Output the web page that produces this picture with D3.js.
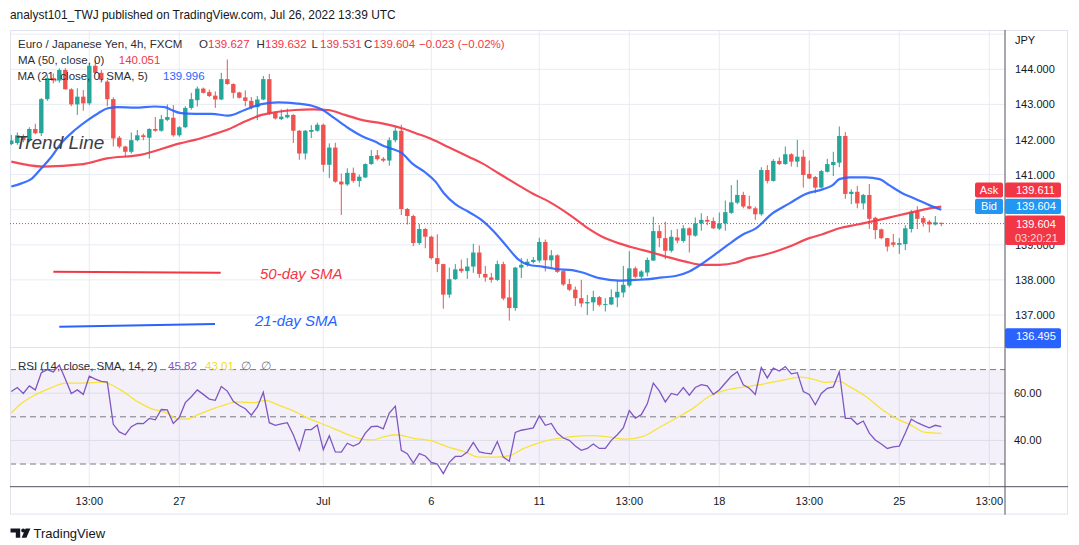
<!DOCTYPE html>
<html><head><meta charset="utf-8">
<script src="https://cdn.jsdelivr.net/npm/d3@7"></script>
<style>
html,body{margin:0;padding:0;background:#fff;}
svg{display:block;font-family:"Liberation Sans",Arial,sans-serif;}
</style></head><body>
<svg id="c" width="1079" height="545"></svg>
<script>
// ---------------- DATA ----------------
const opens = [141.87,141.90,142.10,141.97,142.30,142.18,143.15,143.75,143.68,143.98,143.43,143.00,143.22,143.03,144.10,143.90,143.65,143.15,142.05,141.80,
141.65,141.98,142.12,142.05,142.30,142.25,142.56,142.62,142.12,142.35,142.90,143.12,143.45,143.35,143.25,143.14,143.72,143.58,143.34,143.20,
143.10,142.92,143.14,143.72,142.75,142.58,142.63,142.70,142.25,141.60,142.22,142.25,142.42,141.28,141.77,140.80,140.72,141.05,140.82,140.92,
141.30,141.55,141.45,141.40,141.98,142.25,140.02,139.82,139.05,139.45,139.23,138.62,138.45,137.58,138.02,138.32,138.25,138.38,138.78,138.17,
138.07,138.00,138.45,137.50,137.20,138.35,138.43,138.51,138.55,139.08,138.56,138.70,138.25,137.88,137.72,137.48,137.33,137.36,137.51,137.29,
137.30,137.50,137.64,137.84,138.33,138.09,138.21,138.55,139.39,139.19,138.83,139.21,139.11,139.47,139.26,139.61,139.71,139.68,139.46,139.61,
139.91,140.20,140.42,140.10,140.04,139.87,141.13,140.82,141.39,141.30,141.58,141.37,141.51,141.02,140.93,140.63,141.08,141.27,141.34,142.10,
140.45,140.51,140.18,140.42,139.77,139.44,139.19,139.07,139.00,139.02,139.45,139.94,139.76,139.66,139.58,139.627];
const highs = [142.13,142.20,142.15,142.35,142.45,143.18,143.85,143.88,144.03,144.03,143.46,143.46,143.41,144.15,144.25,143.98,143.70,143.20,142.10,141.82,
142.20,142.27,142.17,142.32,142.64,142.70,143.00,142.98,142.38,142.95,143.33,143.51,143.48,143.42,143.37,143.90,144.28,143.60,143.36,143.40,
143.21,143.24,143.81,143.87,142.79,142.86,142.88,142.72,142.27,142.27,142.41,142.48,142.45,141.89,141.91,141.03,141.18,141.20,141.00,141.32,
141.70,141.70,141.50,142.06,142.35,142.42,140.05,139.86,139.60,139.48,139.26,139.30,138.46,138.35,138.45,138.58,138.62,139.03,138.98,138.40,
138.20,138.55,138.52,138.00,138.37,138.62,138.60,138.65,139.20,139.15,138.85,138.73,138.28,138.03,137.81,138.00,137.57,137.69,137.54,137.48,
137.73,137.97,138.40,138.82,138.38,138.28,138.64,139.80,139.56,139.66,139.42,139.45,139.56,139.50,139.78,139.90,139.82,139.78,139.92,140.26,
140.70,140.85,140.51,140.40,140.09,141.21,141.27,141.44,141.49,141.80,141.61,141.99,141.70,141.40,140.96,141.13,141.45,141.65,142.37,142.21,
140.58,140.68,140.45,140.73,139.80,139.46,139.20,139.31,139.19,139.56,139.99,140.10,139.82,139.71,139.82,139.632];
const lows = [141.84,141.85,141.92,141.92,142.15,142.10,143.10,143.60,143.62,143.42,142.95,142.70,142.82,142.98,143.86,143.62,142.95,141.80,141.75,141.50,
141.60,141.95,141.98,141.45,142.22,142.22,142.52,142.08,142.08,142.32,142.85,142.94,143.31,143.21,142.90,143.12,143.56,143.17,143.17,142.95,
142.86,142.55,143.12,142.70,142.57,142.55,142.60,141.90,141.42,141.43,142.04,142.22,141.08,140.90,140.77,139.85,140.68,140.77,140.65,140.90,
141.28,141.40,141.36,141.25,141.92,139.85,139.58,138.96,139.00,138.90,138.58,138.22,137.18,137.49,138.00,138.20,138.03,138.20,138.06,137.95,
137.92,137.97,137.42,136.84,137.12,138.05,138.38,138.47,138.49,138.24,138.37,138.20,137.83,137.68,137.26,137.22,137.00,137.12,137.24,137.10,
137.28,137.22,137.50,137.79,138.05,138.00,138.10,138.55,138.93,138.59,138.78,139.04,139.06,138.78,139.23,139.40,139.56,139.45,139.42,139.40,
139.88,140.16,140.04,140.01,139.71,139.83,140.75,140.80,141.27,141.28,141.23,141.21,140.63,140.87,140.47,140.61,141.06,140.96,141.21,140.31,
140.16,140.04,140.01,139.45,139.16,139.16,138.81,138.93,138.74,138.85,139.35,139.45,139.52,139.35,139.55,139.531];
const closes = [141.97,142.12,141.98,142.30,142.18,143.15,143.75,143.68,143.98,143.43,143.00,143.22,143.03,144.10,143.90,143.70,143.15,142.03,141.80,141.65,
141.98,142.12,142.07,142.30,142.25,142.58,142.64,142.12,142.35,142.90,143.15,143.45,143.33,143.24,143.14,143.72,143.58,143.33,143.19,143.10,
142.92,143.14,143.72,142.75,142.60,142.65,142.70,142.25,141.60,142.25,142.27,142.42,141.28,141.77,140.80,140.72,141.05,140.82,140.94,141.30,
141.53,141.44,141.40,141.98,142.25,140.02,139.82,139.05,139.45,139.23,138.62,138.45,137.58,138.02,138.30,138.25,138.38,138.78,138.17,138.07,
138.00,138.45,137.47,137.20,138.35,138.43,138.52,138.57,139.08,138.56,138.70,138.23,137.87,137.72,137.48,137.33,137.37,137.51,137.29,137.31,
137.51,137.66,137.86,138.33,138.09,138.24,138.57,139.39,139.19,138.83,139.23,139.12,139.47,139.27,139.61,139.71,139.66,139.47,139.61,139.93,
140.21,140.42,140.09,140.03,139.87,141.13,140.82,141.39,141.30,141.58,141.37,141.51,140.99,140.89,140.63,141.10,141.30,141.36,142.10,140.45,
140.51,140.18,140.42,139.74,139.42,139.19,138.95,139.00,139.05,139.47,139.94,139.74,139.63,139.58,139.64,139.604];

// moving averages: [bar index, value]
const ma50 = [[0,141.37],[5.3,141.23],[12,141.30],[15.9,141.46],[21.5,141.56],[28.1,141.89],[30.6,141.99],[33.4,142.13],[36.2,142.29],[38.9,142.51],
[41.7,142.70],[44.5,142.79],[47.3,142.84],[50.1,142.86],[52.8,142.84],[55.6,142.70],[58.4,142.56],[61.8,142.46],[65.1,142.32],[67.4,142.18],
[70.1,142.01],[72.9,141.78],[76.2,141.51],[78.5,141.32],[81.2,141.04],[84,140.75],[86.8,140.47],[89.6,140.23],[93,139.86],[95.7,139.52],
[98.5,139.23],[101.3,139.04],[104.1,138.90],[106.8,138.78],[109.6,138.64],[112.4,138.52],[115.2,138.43],[118,138.43],[120.7,138.49],[122.9,138.62],
[124.6,138.68],[127.4,138.81],[129.7,138.95],[133,139.19],[135.2,139.30],[138,139.47],[140.8,139.57],[144.1,139.69],[147.4,139.82],[150.2,139.93],
[153,140.04],[155,140.09]];
const ma21 = [[0,140.66],[1.7,140.75],[3.3,140.87],[5,141.18],[6.7,141.51],[8.3,141.89],[10.6,142.27],[12.8,142.56],[14.5,142.75],[16.1,142.89],
[17.8,142.92],[20.6,142.91],[23.9,142.94],[25.6,142.92],[26.7,142.84],[28.3,142.75],[30.6,142.73],[33.4,142.73],[36.2,142.68],[38.9,142.84],
[41.7,143.01],[44.5,143.06],[47.3,143.03],[50.1,142.96],[51.7,142.86],[53.9,142.60],[56.2,142.32],[58.4,142.10],[60.6,141.94],[62.3,141.80],
[63.5,141.73],[65.1,141.61],[66.8,141.32],[69,141.06],[70.7,140.80],[72.1,140.47],[74,140.16],[76.2,139.94],[78.5,139.69],[80.7,139.33],
[82.6,138.95],[84.6,138.57],[86.2,138.43],[88.5,138.38],[90.7,138.31],[93.5,138.28],[95.2,138.21],[98,138.05],[101.3,137.98],[104.1,138.00],
[106.3,138.02],[108.5,138.07],[110.7,138.11],[113,138.24],[115.2,138.47],[117.4,138.74],[119.6,139.02],[121.8,139.28],[124.1,139.47],[126.9,139.90],
[129.7,140.18],[132.4,140.45],[135.2,140.58],[136.9,140.70],[138,140.87],[139.7,140.92],[142.4,140.92],[144.7,140.87],[146.3,140.70],[148.5,140.47],
[150.8,140.30],[153,140.13],[155,140.00]];

const rsi = [60.7,62.4,59.9,63.1,61.4,68.7,70,69,72,66,59.9,61.4,59.5,67.2,66,65,64.7,46.8,43.6,42.4,
45.8,47.2,47.1,49.3,48.7,53.1,52.9,47.2,49.7,56,58.5,61.4,59.5,57.5,57,62.8,60.9,56.6,54.8,53.4,
50.7,54.1,60.4,47.5,46.4,47,47.5,42.4,35.8,44.6,44.6,46.5,36.1,42,35.1,35,38.8,37.6,38.8,43.1,
45.8,46,44.9,51.6,54.5,35.8,34.4,30.4,34.4,33.4,30.7,30,25.9,30.7,33.2,33.2,35.1,39.1,35.1,34.6,
34.3,39.5,32.9,31.2,43.4,44.3,44.8,45.3,50.4,46.4,47.2,43.1,41,40,37.6,35.8,36.6,38.5,36.6,36.6,
40,42.4,45.3,52.6,49.4,50.9,55.5,64.3,61,56.3,59.9,59.2,62.4,59.2,62.4,63.6,63.1,59.5,61.4,64.3,
67.2,69.1,63.6,62.1,59.5,70.9,66.5,70.6,69.4,71.3,68.2,68.7,60.7,59.5,55.1,59.9,62.1,62.7,69.1,49.3,
49.3,46.8,48.2,43.1,40.2,38.5,36.6,37.3,37.6,43.1,49,47.5,46.4,45.3,46.4,45.82];
const rsiMa = [[0,51.6],[1.6,55.5],[3.9,59.2],[6.7,62.4],[9,64.3],[11.9,64.3],[15.3,64.7],[18.2,61.4],[21.1,56.3],[23.4,53.4],
[25.7,51.9],[27.9,49],[29.1,49],[31.4,51.2],[34.9,54.5],[37.7,56.3],[40.6,56],[42.3,57],[44,55.5],[46.9,52.6],
[49.8,49],[52.7,46.1],[55.5,43.1],[57.8,40.9],[60.1,40.2],[62.4,41.7],[64.1,42.4],[67,40.9],[69.9,39.9],[72.7,37.3],
[75.6,35.1],[77.9,32.9],[80.8,32.9],[83.1,33.6],[85.4,36.6],[88.1,39.1],[90.4,40.5],[93.8,41.7],[96.7,42],[99.6,41.4],
[102.4,40.5],[105.3,41.7],[108.2,45.8],[111,49.7],[113.9,54.1],[116.2,58.5],[118.5,60.9],[121.3,62.4],[124.8,63.6],[128.2,65.3],
[131.7,66.8],[133.9,65.8],[135.7,64.6],[138,65],[139.7,62.8],[142.5,58.5],[145.4,52.6],[147.7,49],[150,46.4],[152.3,43.4],[155,43.01]];

const xTickIdx = [13,28,52,70,88,103,118,133,148,163];
const xTickLabels = ["13:00","27","Jul","6","11","13:00","18","13:00","25","13:00"];
const priceTicks = [137,138,139,141,142,143,144];   // 140.000 is hidden behind the Bid/Ask tags
const priceGrid = [137,138,139,140,141,142,143,144,145];
const rsiTicks = [60,40];
const rsiLevels = [70,50,30];
const askPrice = 139.611, bidPrice = 139.604, lowMark = 136.495;
const ma50Last = "140.051", ma21Last = "139.996", rsiLast = "45.82", rsiMaLast = "43.01";

// ---------------- LAYOUT ----------------
const L=10, R=1068, T=30, B=514.6, PR=1005, MB=347.5, RB=486.7;
const UP="#26a69a", DN="#ef5350", RED="#F23645", BLUE="#2962FF", TXT="#2a2e39", GRID="#e8ecf2";
const svg = d3.select("#c");

const x = d3.scaleLinear().domain([0,155]).range([11.3,941.3]);
const y = d3.scaleLinear().domain([137,144]).range([315,69.3]);
const yr = d3.scaleLinear().domain([30,70]).range([464,369.6]);

const defs = svg.append("defs");
defs.append("clipPath").attr("id","mainClip").append("rect").attr("x",L).attr("y",T).attr("width",PR-L).attr("height",MB-T);
defs.append("clipPath").attr("id","rsiClip").append("rect").attr("x",L).attr("y",MB).attr("width",PR-L).attr("height",RB-MB);

// header
const hdr = svg.append("text").attr("x",10).attr("y",19).attr("font-size",12).attr("fill","#131722")
  .text("analyst101_TWJ published on TradingView.com, Jul 26, 2022 13:39 UTC");
const hw = hdr.node().getComputedTextLength();
hdr.attr("font-size", 12*386/hw);

// grids
const grid = svg.append("g");
grid.selectAll(".vg").data(xTickIdx).join("line")
  .attr("x1",d=>x(d)).attr("x2",d=>x(d)).attr("y1",T).attr("y2",RB).attr("stroke",GRID);
grid.append("g").attr("clip-path","url(#mainClip)").selectAll("line").data(priceGrid).join("line")
  .attr("x1",L).attr("x2",PR).attr("y1",d=>y(d)).attr("y2",d=>y(d)).attr("stroke",GRID);

// RSI background band
svg.append("rect").attr("x",L).attr("width",PR-L).attr("y",yr(70)).attr("height",yr(30)-yr(70))
  .attr("fill","#7E57C2").attr("fill-opacity",0.09);
svg.selectAll(".rg").data(rsiTicks).join("line")
  .attr("x1",L).attr("x2",PR).attr("y1",d=>yr(d)).attr("y2",d=>yr(d)).attr("stroke","#dcdde6");
svg.selectAll(".rl").data(rsiLevels).join("line")
  .attr("x1",L).attr("x2",PR).attr("y1",d=>yr(d)).attr("y2",d=>yr(d))
  .attr("stroke","#787B86").attr("stroke-dasharray","6,4");

// frame / axes lines
svg.append("line").attr("x1",L).attr("x2",PR).attr("y1",MB).attr("y2",MB).attr("stroke","#E0E3EB");
svg.append("rect").attr("x",L+0.5).attr("y",T+0.5).attr("width",R-L-1).attr("height",B-T-1)
  .attr("fill","none").attr("stroke","#E0E3EB");
svg.append("line").attr("x1",PR).attr("x2",PR).attr("y1",T).attr("y2",B).attr("stroke","#50535E");
svg.append("line").attr("x1",L).attr("x2",R).attr("y1",RB).attr("y2",RB).attr("stroke","#50535E");

// candles
const main = svg.append("g").attr("clip-path","url(#mainClip)");
const idx = d3.range(closes.length);
main.selectAll(".wick").data(idx).join("line")
  .attr("x1",i=>x(i)).attr("x2",i=>x(i)).attr("y1",i=>y(highs[i])).attr("y2",i=>y(lows[i]))
  .attr("stroke",i=>closes[i]>=opens[i]?UP:DN).attr("stroke-width",1);
main.selectAll(".body").data(idx).join("rect")
  .attr("x",i=>x(i)-2.2).attr("width",4.4)
  .attr("y",i=>y(Math.max(opens[i],closes[i])))
  .attr("height",i=>Math.max(1,Math.abs(y(opens[i])-y(closes[i]))))
  .attr("fill",i=>closes[i]>=opens[i]?UP:DN);

// close dotted line
main.append("line").attr("x1",L).attr("x2",PR).attr("y1",y(closes[155])).attr("y2",y(closes[155]))
  .attr("stroke",RED).attr("stroke-dasharray","1,2");

// moving averages
const maLine = d3.line().x(d=>x(d[0])).y(d=>y(d[1])).curve(d3.curveMonotoneX);
main.append("path").attr("d",maLine(ma50)).attr("fill","none").attr("stroke",RED).attr("stroke-width",2.2).attr("stroke-opacity",0.9);
main.append("path").attr("d",maLine(ma21)).attr("fill","none").attr("stroke",BLUE).attr("stroke-width",2.2).attr("stroke-opacity",0.9);

// drawings
svg.append("text").attr("x",15).attr("y",148.5).attr("font-size",19).attr("font-style","italic")
  .attr("fill","#3b3e48").text("Trend Line");
svg.append("line").attr("x1",53.3).attr("y1",271.7).attr("x2",220.7).attr("y2",272.7).attr("stroke",RED).attr("stroke-width",2);
svg.append("line").attr("x1",59.3).attr("y1",326.7).attr("x2",215).attr("y2",324).attr("stroke",BLUE).attr("stroke-width",2);
svg.append("text").attr("x",260).attr("y",279.3).attr("font-size",15).attr("font-style","italic").attr("fill",RED).text("50-day SMA");
svg.append("text").attr("x",255).attr("y",325.7).attr("font-size",15).attr("font-style","italic").attr("fill",BLUE).text("21-day SMA");

// legends
const lg = svg.append("g").attr("font-size",11.5);
function t(xx,yy,txt,col){ lg.append("text").attr("x",xx).attr("y",yy).attr("fill",col).text(txt); }
t(18,48,"Euro / Japanese Yen, 4h, FXCM",TXT);
t(199,48,"O",TXT); t(208,48,opens[155].toFixed(3),RED);
t(256.5,48,"H",TXT); t(265,48,highs[155].toFixed(3),RED);
t(311.6,48,"L",TXT); t(320,48,lows[155].toFixed(3),RED);
t(364,48,"C",TXT); t(373.6,48,closes[155].toFixed(3),RED);
t(419,48,"\u22120.023 (\u22120.02%)",RED);
t(18,64,"MA (50, close, 0)",TXT); t(118.8,64,ma50Last,RED);
t(17.5,80,"MA (21, close, 0, SMA, 5)",TXT); t(163,80,ma21Last,BLUE);
t(18,369.5,"RSI (14, close, SMA, 14, 2)",TXT); t(168,369.5,rsiLast,"#7E57C2"); t(205,369.5,rsiMaLast,"#F2DA2A");
t(241,369.5,"\u2205","#787B86"); t(261,369.5,"\u2205","#787B86");

// RSI lines
const rg = svg.append("g").attr("clip-path","url(#rsiClip)");
const rsiLine = d3.line().x((d,i)=>x(i)).y(d=>yr(d));
rg.append("path").attr("d",d3.line().x(d=>x(d[0])).y(d=>yr(d[1])).curve(d3.curveMonotoneX)(rsiMa))
  .attr("fill","none").attr("stroke","#F7E33A").attr("stroke-width",1.3);
rg.append("path").attr("d",rsiLine(rsi)).attr("fill","none").attr("stroke","#7E57C2").attr("stroke-width",1.3);

// axis labels
const ax = svg.append("g").attr("font-size",11).attr("fill","#131722");
ax.append("text").attr("x",1015).attr("y",44).text("JPY");
ax.selectAll(".pt").data(priceTicks).join("text").attr("x",1015).attr("y",d=>y(d)+4).text(d=>d.toFixed(3));
ax.selectAll(".rt").data(rsiTicks).join("text").attr("x",1014).attr("y",d=>yr(d)+4).text(d=>d.toFixed(2));
ax.selectAll(".xt").data(xTickIdx).join("text").attr("x",d=>x(d)).attr("y",504.5).attr("text-anchor","middle")
  .text((d,i)=>xTickLabels[i]);

// price labels on axis
const cy = y(closes[155]);
const closeTop = cy-8, bidTop = closeTop-1.5-15.3, askTop = bidTop-1.3-15;
const pl = svg.append("g").attr("font-size",11);
function box(x0,y0,w,h,col){ pl.append("rect").attr("x",x0).attr("y",y0).attr("width",w).attr("height",h).attr("rx",2).attr("fill",col); }
box(975,askTop,28,15,RED); box(1005,askTop,56,15,RED);
pl.append("text").attr("x",989).attr("y",askTop+11.3).attr("text-anchor","middle").attr("fill","#fff").text("Ask");
pl.append("text").attr("x",1016).attr("y",askTop+11.3).attr("fill","#fff").text(askPrice.toFixed(3));
box(975,bidTop,28,15.3,"#2196F3"); box(1005,bidTop,56,15.3,"#2196F3");
pl.append("text").attr("x",989).attr("y",bidTop+11.5).attr("text-anchor","middle").attr("fill","#fff").text("Bid");
pl.append("text").attr("x",1016).attr("y",bidTop+11.5).attr("fill","#fff").text(bidPrice.toFixed(3));
box(1005,closeTop,60,29.5,RED);
pl.append("text").attr("x",1016).attr("y",cy+4).attr("fill","#fff").text(closes[155].toFixed(3));
pl.append("text").attr("x",1015).attr("y",cy+18.5).attr("fill","#fff").attr("fill-opacity",0.8).text("03:20:21");
const ly = y(lowMark);
box(1005,ly-4.5,56,20,"#2962FF");
pl.append("text").attr("x",1016).attr("y",ly+7).attr("fill","#fff").text(lowMark.toFixed(3));

// TradingView logo
const lgo = svg.append("g").attr("fill","#131722");
lgo.append("path").attr("d","M10.5 528.6 H20.2 V537.7 H15.8 V532.4 H10.5 Z");
lgo.append("circle").attr("cx",23.2).attr("cy",530.6).attr("r",2);
lgo.append("path").attr("d","M25.6 528.6 H30.4 L26.4 537.7 H21.6 Z");
lgo.append("text").attr("x",33.5).attr("y",537.7).attr("font-size",13).text("TradingView");
</script>
</body></html>
